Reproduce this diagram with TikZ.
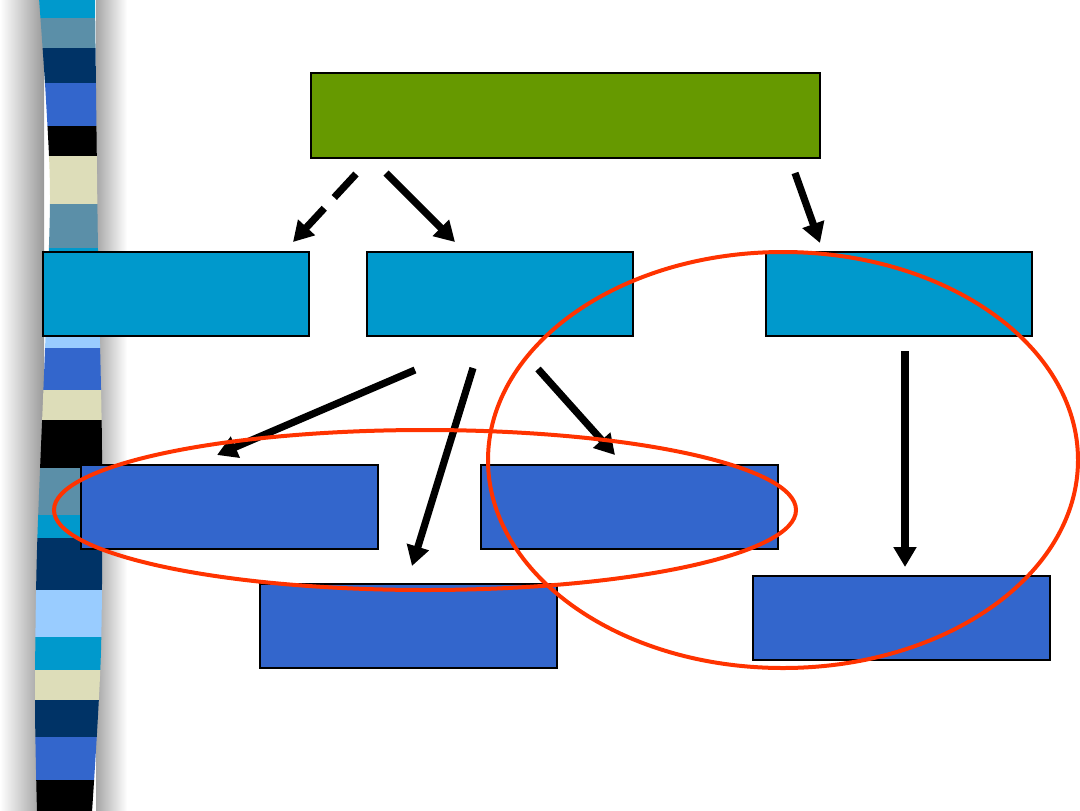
\documentclass[tikz,border=0pt]{standalone}
\usetikzlibrary{arrows.meta,fit}
\definecolor{cyanb}{HTML}{0099CC}
\definecolor{steelb}{HTML}{5B8FA8}
\definecolor{navyb}{HTML}{003366}
\definecolor{royalb}{HTML}{3366CC}
\definecolor{beigeb}{HTML}{DDDDB9}
\definecolor{lightb}{HTML}{99CCFF}
\definecolor{greenb}{HTML}{669900}
\definecolor{redl}{HTML}{FF3300}
\tikzset{
  box/.style={draw=black, line width=1.1pt, inner sep=0pt, outer sep=0pt},
  gbox/.style={box, fill=greenb},
  cbox/.style={box, fill=cyanb},
  bbox/.style={box, fill=royalb},
  arr/.style={line width=5.4pt, black, -{Triangle[length=15pt,width=16.5pt]}},
  redring/.style={draw=redl, line width=3pt},
}
\begin{document}
\begin{tikzpicture}[x=0.75pt,y=-0.75pt]
\useasboundingbox (0,0) rectangle (1080,810);
% shadows of the stripe bar
\shade[left color=white, right color=gray!80] (0,0) rectangle (44,810);
\shade[left color=gray!70, right color=white] (96,0) rectangle (127,810);
% stripe bar
\begin{scope}
\clip plot[smooth] coordinates {(39,-2) (46,100) (50,200) (45,350) (37,550) (35,700) (37,812)}
  -- plot[smooth] coordinates {(92,812) (101,650) (102,450) (98,250) (95,-2)} -- cycle;
\foreach \ya/\yb/\c in {-2/18/cyanb, 18/48/steelb, 48/83/navyb, 83/126/royalb,
  126/156/black, 156/204/beigeb, 204/248/steelb, 248/300/cyanb, 300/348/lightb,
  348/390/royalb, 390/420/beigeb, 420/468/black, 468/515/steelb, 515/538/cyanb,
  538/590/navyb, 590/637/lightb, 637/670/cyanb, 670/700/beigeb, 700/737/navyb,
  737/780/royalb, 780/812/black}
  \fill[\c] (20,\ya) rectangle (120,\yb);
\end{scope}
% boxes
\node[gbox, fit={(311,73) (820,158)}] (top) {};
\node[cbox, fit={(43,252) (309,336)}] (c1) {};
\node[cbox, fit={(367,252) (633,336)}] (c2) {};
\node[cbox, fit={(766,252) (1032,336)}] (c3) {};
\node[bbox, fit={(81,465) (378,549)}] (b1) {};
\node[bbox, fit={(481,465) (778,549)}] (b2) {};
\node[bbox, fit={(260,584) (557,668)}] (b3) {};
\node[bbox, fit={(753,576) (1050,660)}] (b4) {};
% arrow end points
\coordinate (t1) at (356,174); \coordinate (h1) at (293,242);
\coordinate (t2) at (386,173); \coordinate (h2) at (455,242);
\coordinate (t3) at (795,173); \coordinate (h3) at (820,243);
\coordinate (t4) at (415,370); \coordinate (h4) at (217,455);
\coordinate (t5) at (473,368); \coordinate (h5) at (412,566);
\coordinate (t6) at (538,369); \coordinate (h6) at (615,455);
\coordinate (t7) at (905,351); \coordinate (h7) at (905,567);
% arrows
\draw[arr, dash pattern=on 24pt off 11pt] (t1) -- (h1);
\draw[arr] (t2) -- (h2);
\draw[arr] (t3) -- (h3);
\draw[arr] (t4) -- (h4);
\draw[arr] (t5) -- (h5);
\draw[arr] (t6) -- (h6);
\draw[arr] (t7) -- (h7);
% red rings
\draw[redring] (425,510) ellipse [x radius=371, y radius=80];
\draw[redring] (783,460) ellipse [x radius=295, y radius=208];
\end{tikzpicture}
\end{document}
